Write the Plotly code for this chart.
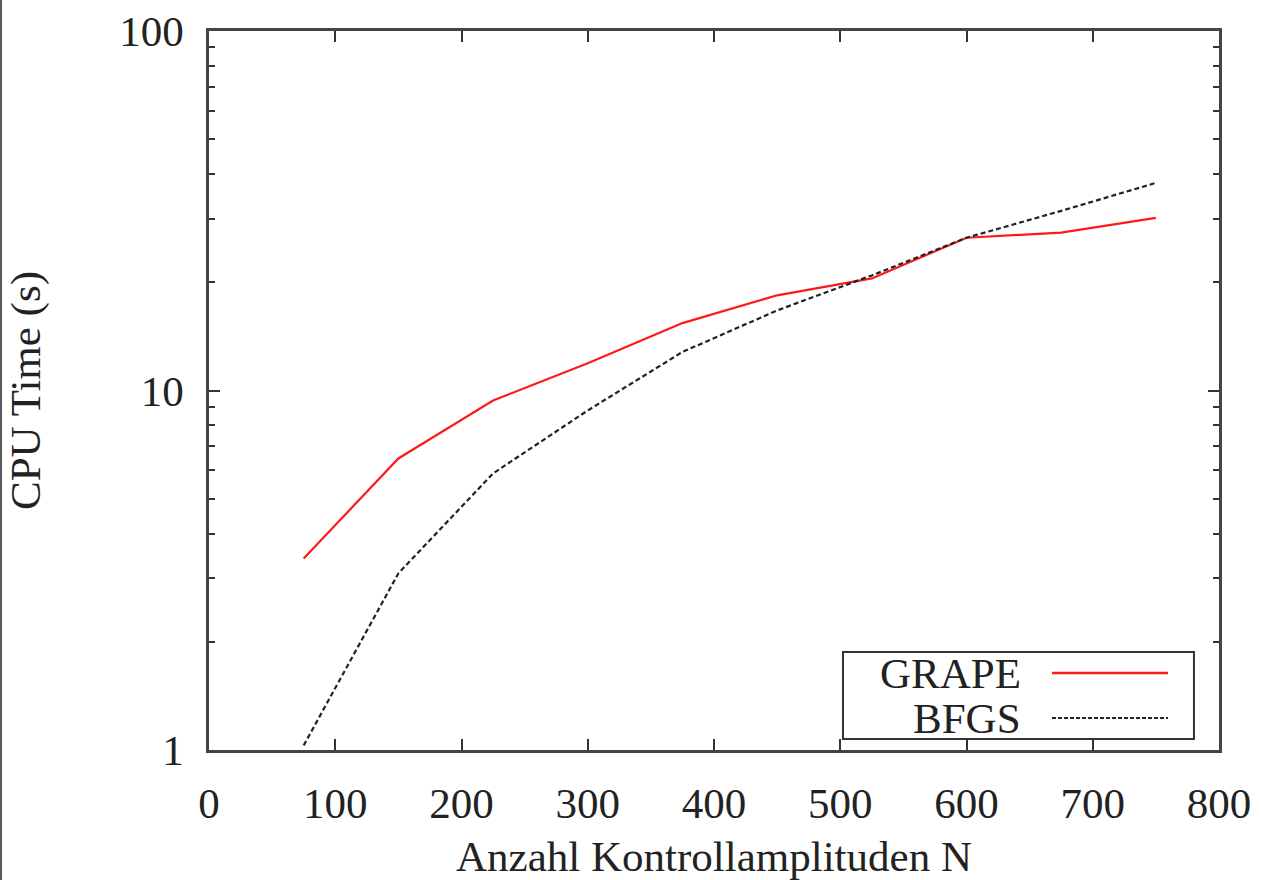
import plotly.graph_objects as go

# ---- data ----
n_values = [75, 150, 225, 300, 375, 450, 525, 600, 675, 750]
grape_time = [3.41, 6.47, 9.38, 11.9, 15.4, 18.4, 20.5, 26.6, 27.5, 30.2]
bfgs_time = [1.03, 3.10, 5.88, 8.8, 12.8, 16.7, 20.9, 26.6, 31.6, 37.8]
series_names = ["GRAPE", "BFGS"]
x_ticks = [0, 100, 200, 300, 400, 500, 600, 700, 800]
y_ticks = [1, 10, 100]
y_tick_text = ["1", "10", "100"]
y_minor = [2, 3, 4, 5, 6, 7, 8, 9, 20, 30, 40, 50, 60, 70, 80, 90]
x_title = "Anzahl Kontrollamplituden N"
y_title = "CPU Time (s)"

FONT = "Liberation Serif, Times New Roman, serif"
FS = 43
RED = "#ff1a1a"
DARK = "#222222"

fig = go.Figure()
fig.add_trace(go.Scatter(x=n_values, y=grape_time, mode="lines", name=series_names[0],
                         line=dict(color=RED, width=2.2)))
fig.add_trace(go.Scatter(x=n_values, y=bfgs_time, mode="lines", name=series_names[1],
                         line=dict(color=DARK, width=2.2, dash="5px,3px")))

axis_common = dict(
    showline=True, linecolor="#444444", linewidth=2.5, mirror="ticks",
    ticks="inside", ticklen=11, tickwidth=2, tickcolor="#333333",
    showgrid=False, zeroline=False, automargin=False,
    tickfont=dict(family=FONT, size=FS, color=DARK),
)

fig.update_layout(
    width=1261, height=880,
    margin=dict(l=209, r=42, t=31, b=130),
    paper_bgcolor="white", plot_bgcolor="white",
    showlegend=False,
    font=dict(family=FONT, size=FS, color=DARK),
    xaxis=dict(range=[0, 800], tickmode="array", tickvals=x_ticks,
               ticklabelstandoff=14,
               title=dict(text=x_title, font=dict(family=FONT, size=FS, color=DARK), standoff=21),
               **axis_common),
    yaxis=dict(type="log", range=[0, 2], tickmode="array", tickvals=y_ticks, ticktext=y_tick_text,
               ticklabelstandoff=14,
               minor=dict(tickvals=y_minor, ticks="inside", ticklen=6, tickwidth=2, tickcolor="#333333", showgrid=False),
               title=dict(text=y_title, font=dict(family=FONT, size=FS, color=DARK), standoff=66),
               **axis_common),
)

# custom legend (text left of sample, as in the reference)
fig.add_shape(type="rect", xref="paper", yref="paper", x0=0.6277, x1=0.9752, y0=0.0153, y1=0.1363,
              line=dict(color="#333333", width=2), fillcolor="white", layer="above")
legend_rows = [(series_names[0], 0.107, dict(color=RED, width=2.5)),
               (series_names[1], 0.0445, dict(color=DARK, width=2, dash="4px,2px"))]
for name, yy, ln in legend_rows:
    fig.add_annotation(x=0.806, y=yy, xref="paper", yref="paper", text=name, showarrow=False,
                       xanchor="right", yanchor="middle", font=dict(family=FONT, size=FS, color=DARK))
    fig.add_shape(type="line", xref="paper", yref="paper", x0=0.8347, x1=0.9495, y0=yy, y1=yy,
                  line=ln, layer="above")

# left page border line visible in the reference
fig.add_shape(type="line", xref="paper", yref="paper", x0=-0.2059, x1=-0.2059, y0=-0.2, y1=1.05,
              line=dict(color="#555555", width=2))

fig.write_html("out.html")
